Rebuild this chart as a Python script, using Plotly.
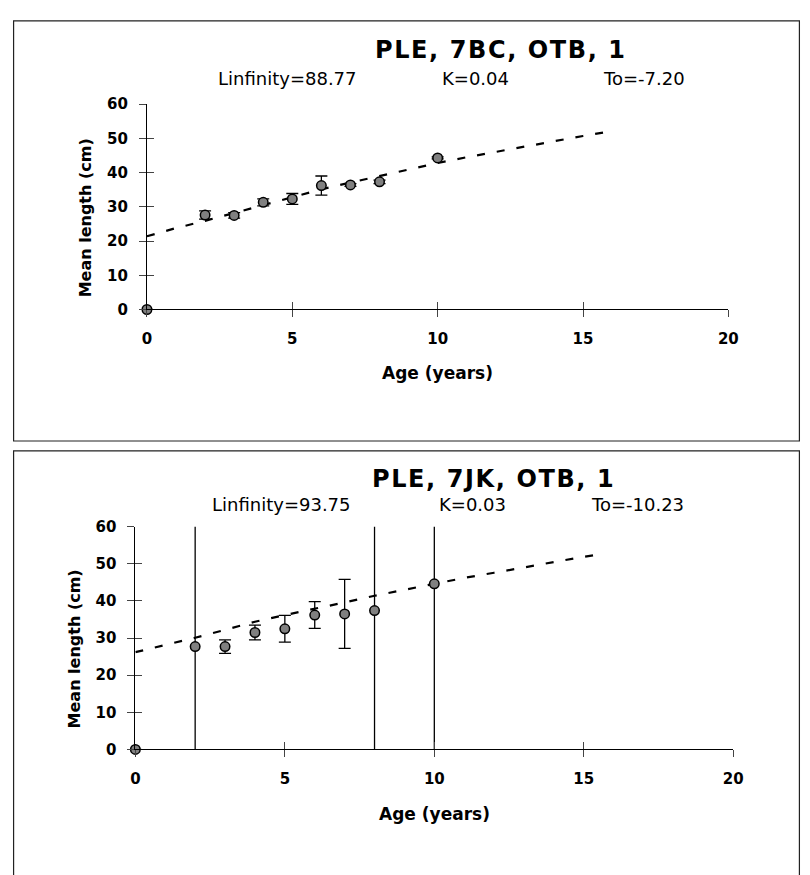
import plotly.graph_objects as go

# ---------------- data ----------------
ages = [0, 2, 3, 4, 5, 6, 7, 8, 10]

top_mean = [0, 27.6, 27.5, 31.3, 32.3, 36.2, 36.4, 37.3, 44.3]
top_err = [0, 1.2, 0.8, 1.0, 1.6, 2.8, 0.4, 0.5, 0.3]

bottom_mean = [0, 27.7, 27.7, 31.5, 32.5, 36.2, 36.5, 37.4, 44.6]
bottom_err = [0, 100, 1.8, 2.0, 3.6, 3.6, 9.3, 100, 100]

fit_age = [0, 1, 2, 3, 4, 5, 6, 7, 8, 9, 10, 11, 12, 13, 14, 15, 15.7]
top_fit_len = [21.4, 23.8, 25.9, 28.2, 30.7, 33.0, 35.1, 37.1, 39.0, 41.0,
               42.8, 44.5, 46.1, 47.7, 49.3, 50.7, 51.7]
bottom_fit_len = [26.2, 28.1, 30.1, 32.2, 34.4, 36.2, 37.8, 39.6, 41.4, 43.0,
                  44.7, 46.2, 47.6, 49.1, 50.6, 51.9, 52.8]

titles = ["PLE, 7BC, OTB, 1", "PLE, 7JK, OTB, 1"]
params = [["Linfinity=88.77", "K=0.04", "To=-7.20"],
          ["Linfinity=93.75", "K=0.03", "To=-10.23"]]
x_title = "Age (years)"
y_title = "Mean length (cm)"
x_ticks = [0, 5, 10, 15, 20]
y_ticks = [0, 10, 20, 30, 40, 50, 60]

# ---------------- layout helpers ----------------
# the page body has an 8px margin, so the figure is placed 8px in
OFF = 8
FW, FH = 802, 867
FONT = "DejaVu Sans"


def px(p):
    return (p - OFF) / FW


def py(p):
    return 1 - (p - OFF) / FH


panels = [
    dict(mean=top_mean, err=top_err, fit=top_fit_len,
         xdom=(144.5, 737.0), ydom=(306.7, 97.0),
         title_xy=(505, 41.3), par_y=70.7, par_x=(288, 479, 651.5),
         ytitle_xy=(82, 213), xtitle_xy=(441, 372),
         box=(8.6, 12, 809.4, 441)),
    dict(mean=bottom_mean, err=bottom_err, fit=bottom_fit_len,
         xdom=(132.7, 742.0), ydom=(756.0, 528.5),
         title_xy=(498, 480), par_y=506, par_x=(282, 476, 644.5),
         ytitle_xy=(71, 653), xtitle_xy=(438, 822),
         box=(8.6, 451, 809.4, 900)),
]

fig = go.Figure()
layout = dict(width=FW, height=FH, autosize=False,
              margin=dict(l=0, r=0, t=0, b=0, pad=0),
              paper_bgcolor="white", plot_bgcolor="rgba(0,0,0,0)",
              showlegend=False, font=dict(family=FONT, color="black"))
annotations = []
shapes = []

tick_font = dict(family=FONT, size=15, color="black", weight="bold")

for i, p in enumerate(panels):
    n = 2 * i + 1
    xa, ya = (f"x{n}" if n > 1 else "x"), (f"y{n}" if n > 1 else "y")
    xo, yo = f"x{n + 1}", f"y{n + 1}"
    xkey = "xaxis" if n == 1 else f"xaxis{n}"
    ykey = "yaxis" if n == 1 else f"yaxis{n}"
    xokey, yokey = f"xaxis{n + 1}", f"yaxis{n + 1}"

    xd = [px(p["xdom"][0]), px(p["xdom"][1])]
    yd = [py(p["ydom"][0]), py(p["ydom"][1])]

    common_x = dict(range=[0, 20], tickvals=x_ticks, showgrid=False,
                    zeroline=False, ticklen=7, tickcolor="#444",
                    tickwidth=1, domain=xd)
    common_y = dict(range=[0, 60], tickvals=y_ticks, showgrid=False,
                    zeroline=False, ticklen=7, tickcolor="#444",
                    tickwidth=1, domain=yd)

    layout[xkey] = dict(anchor=ya, ticks="outside",
                        showline=True, linecolor="black", linewidth=1,
                        tickfont=tick_font, ticklabelstandoff=9,
                        **common_x)
    layout[ykey] = dict(anchor=xa, ticks="outside",
                        showline=True, linecolor="black", linewidth=1,
                        tickfont=tick_font, ticklabelstandoff=8,
                        **common_y)
    # overlay axes give the inner half of the crossing tick marks
    layout[xokey] = dict(overlaying=xa, anchor=ya, ticks="inside",
                         showline=False, showticklabels=False, **common_x)
    layout[yokey] = dict(overlaying=ya, anchor=xa, ticks="inside",
                         showline=False, showticklabels=False, **common_y)

    # fitted growth curve
    fig.add_trace(go.Scatter(x=fit_age, y=p["fit"], mode="lines",
                             xaxis=xa, yaxis=ya, hoverinfo="skip",
                             line=dict(color="black", width=2.2,
                                       dash="8px,12px")))
    # error bars (clipped to the plot area)
    fig.add_trace(go.Scatter(x=ages, y=p["mean"], mode="markers",
                             xaxis=xa, yaxis=ya, cliponaxis=True,
                             marker=dict(size=1, opacity=0),
                             error_y=dict(type="data", array=p["err"],
                                          visible=True, color="black",
                                          thickness=1.3, width=6)))
    # observed means
    fig.add_trace(go.Scatter(x=ages, y=p["mean"], mode="markers",
                             xaxis=xa, yaxis=ya, cliponaxis=False,
                             marker=dict(size=9.5, color="#808080",
                                         line=dict(color="black", width=1.5))))
    # invisible trace on the overlay axes
    fig.add_trace(go.Scatter(x=[0], y=[0], mode="markers", xaxis=xo,
                             yaxis=yo, hoverinfo="skip",
                             marker=dict(size=1, opacity=0)))

    # frame
    bx0, by0, bx1, by1 = p["box"]
    shapes.append(dict(type="rect", xref="paper", yref="paper",
                       x0=px(bx0), x1=px(bx1), y0=py(by1), y1=py(by0),
                       line=dict(color="#222", width=1.2), layer="below"))

    # title
    annotations.append(dict(
        text=f'<span style="letter-spacing:1.6px">{titles[i]}</span>',
        x=px(p["title_xy"][0]), y=py(p["title_xy"][1]),
        xref="paper", yref="paper", showarrow=False,
        xanchor="center", yanchor="middle",
        font=dict(family=FONT, size=24, color="black", weight="bold")))
    for t, xx in zip(params[i], p["par_x"]):
        annotations.append(dict(
            text=t, x=px(xx), y=py(p["par_y"]), xref="paper", yref="paper",
            showarrow=False, xanchor="center", yanchor="middle",
            font=dict(family=FONT, size=18, color="black")))
    annotations.append(dict(
        text=y_title, x=px(p["ytitle_xy"][0]), y=py(p["ytitle_xy"][1]),
        xref="paper", yref="paper", showarrow=False, textangle=-90,
        xanchor="center", yanchor="middle",
        font=dict(family=FONT, size=16, color="black", weight="bold")))
    annotations.append(dict(
        text=x_title, x=px(p["xtitle_xy"][0]), y=py(p["xtitle_xy"][1]),
        xref="paper", yref="paper", showarrow=False,
        xanchor="center", yanchor="middle",
        font=dict(family=FONT, size=17, color="black", weight="bold")))

layout["annotations"] = annotations
layout["shapes"] = shapes
fig.update_layout(**layout)
fig.write_html("out.html")
